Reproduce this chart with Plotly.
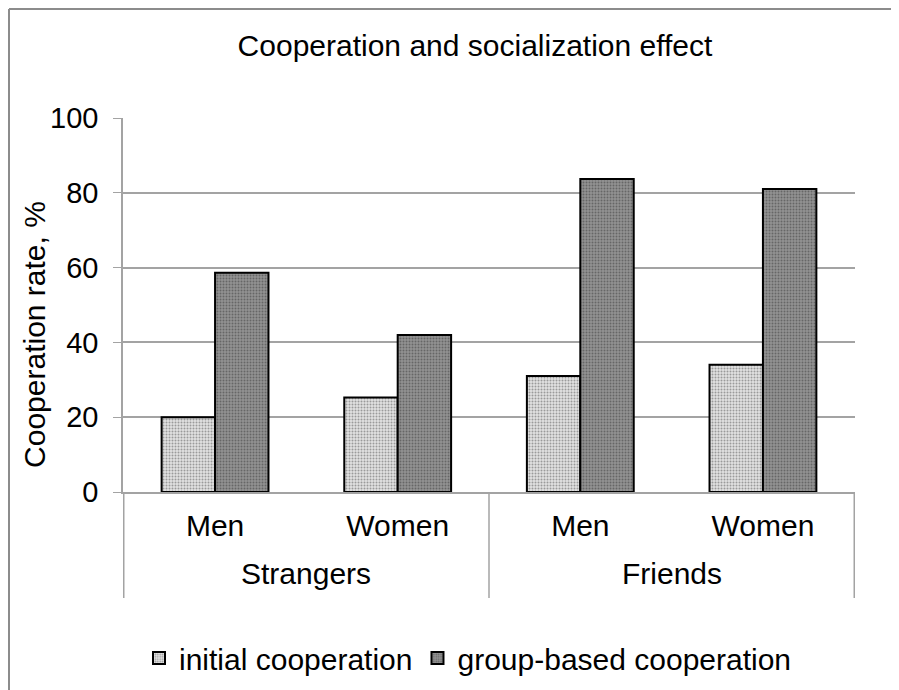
import plotly.graph_objects as go

group_labels = ["Strangers", "Friends"]
groups = ["Strangers", "Strangers", "Friends", "Friends"]
genders = ["Men", "Women", "Men", "Women"]
initial = [20, 25.3, 31, 34]
group_based = [58.6, 42, 83.7, 81]
series_names = ["initial cooperation", "group-based cooperation"]
y_ticks = [0, 20, 40, 60, 80, 100]

FONT = "Liberation Sans, Arial, sans-serif"
GRID = "#a3a3a3"

cats = [f"{g} {s}" for g, s in zip(groups, genders)]

# figure-pixel layout (page shows figure offset by 8px body margin)
L, T, R, B = 115, 110, 52, 206
W, H = 899, 690
PW, PH = W - L - R, H - T - B

fig = go.Figure()
fig.add_trace(go.Bar(
    x=cats, y=initial, name=series_names[0],
    marker=dict(color="#d8d8d8", line=dict(color="black", width=2),
                pattern=dict(shape=".", bgcolor="#e2e2e2", fgcolor="#9a9a9a",
                             size=3, solidity=0.35, fillmode="replace")),
))
fig.add_trace(go.Bar(
    x=cats, y=group_based, name=series_names[1],
    marker=dict(color="#8e8e8e", line=dict(color="black", width=2),
                pattern=dict(shape=".", bgcolor="#939393", fgcolor="#666666",
                             size=3, solidity=0.35, fillmode="replace")),
))

fig.update_layout(
    width=W, height=H,
    paper_bgcolor="white", plot_bgcolor="white",
    margin=dict(l=L, r=R, t=T, b=B),
    barmode="group", bargap=0.415, bargroupgap=0,
    font=dict(family=FONT, color="black", size=29),
    title=dict(text="Cooperation and socialization effect", x=467 / W, xref="container",
               xanchor="center", y=1 - 37 / H, yanchor="middle",
               font=dict(size=30, family=FONT)),
    legend=dict(orientation="h", x=460 / W, xanchor="center", xref="container",
                y=1 - 650 / H, yanchor="middle", yref="container",
                font=dict(size=30), itemwidth=30, traceorder="normal"),
    xaxis=dict(type="category", categoryorder="array", categoryarray=cats,
               tickvals=cats, ticktext=genders,
               showline=True, linecolor=GRID, linewidth=1.5,
               tickfont=dict(size=30), ticks="", showgrid=False, ticklabelstandoff=6),
    yaxis=dict(range=[0, 100], tickvals=y_ticks, showgrid=True, gridcolor=GRID,
               gridwidth=1.5, showline=True, linecolor=GRID, linewidth=1.5,
               ticks="outside", ticklen=8, tickcolor=GRID, zeroline=False,
               tickfont=dict(size=29), ticklabelstandoff=9),
)

# y-axis title
fig.add_annotation(text="Cooperation rate, %", xref="paper", yref="paper",
                   x=(27 - L) / PW, y=0.42, textangle=-90, showarrow=False,
                   xanchor="center", yanchor="middle", font=dict(size=30))

# group labels under the categories
for i, g in enumerate(group_labels):
    fig.add_annotation(text=g, xref="x", yref="paper", x=2 * i + 0.5, y=-81 / PH,
                       showarrow=False, xanchor="center", yanchor="middle",
                       font=dict(size=30))

# group dividers
for xv in [-0.5, 1.5, 3.5]:
    fig.add_shape(type="line", xref="x", yref="paper", x0=xv, x1=xv,
                  y0=0, y1=-106 / PH, line=dict(color=GRID, width=1.5))

# chart frame border (top and left edges visible)
fig.add_shape(type="line", xref="paper", yref="paper",
              x0=(1 - L) / PW, x1=(W - L) / PW, y0=(PH + T - 1) / PH, y1=(PH + T - 1) / PH,
              line=dict(color="#8c8c8c", width=2))
fig.add_shape(type="line", xref="paper", yref="paper",
              x0=(1 - L) / PW, x1=(1 - L) / PW, y0=(PH + T - 1) / PH, y1=-(B) / PH,
              line=dict(color="#8c8c8c", width=2))

fig.write_html("out.html")
